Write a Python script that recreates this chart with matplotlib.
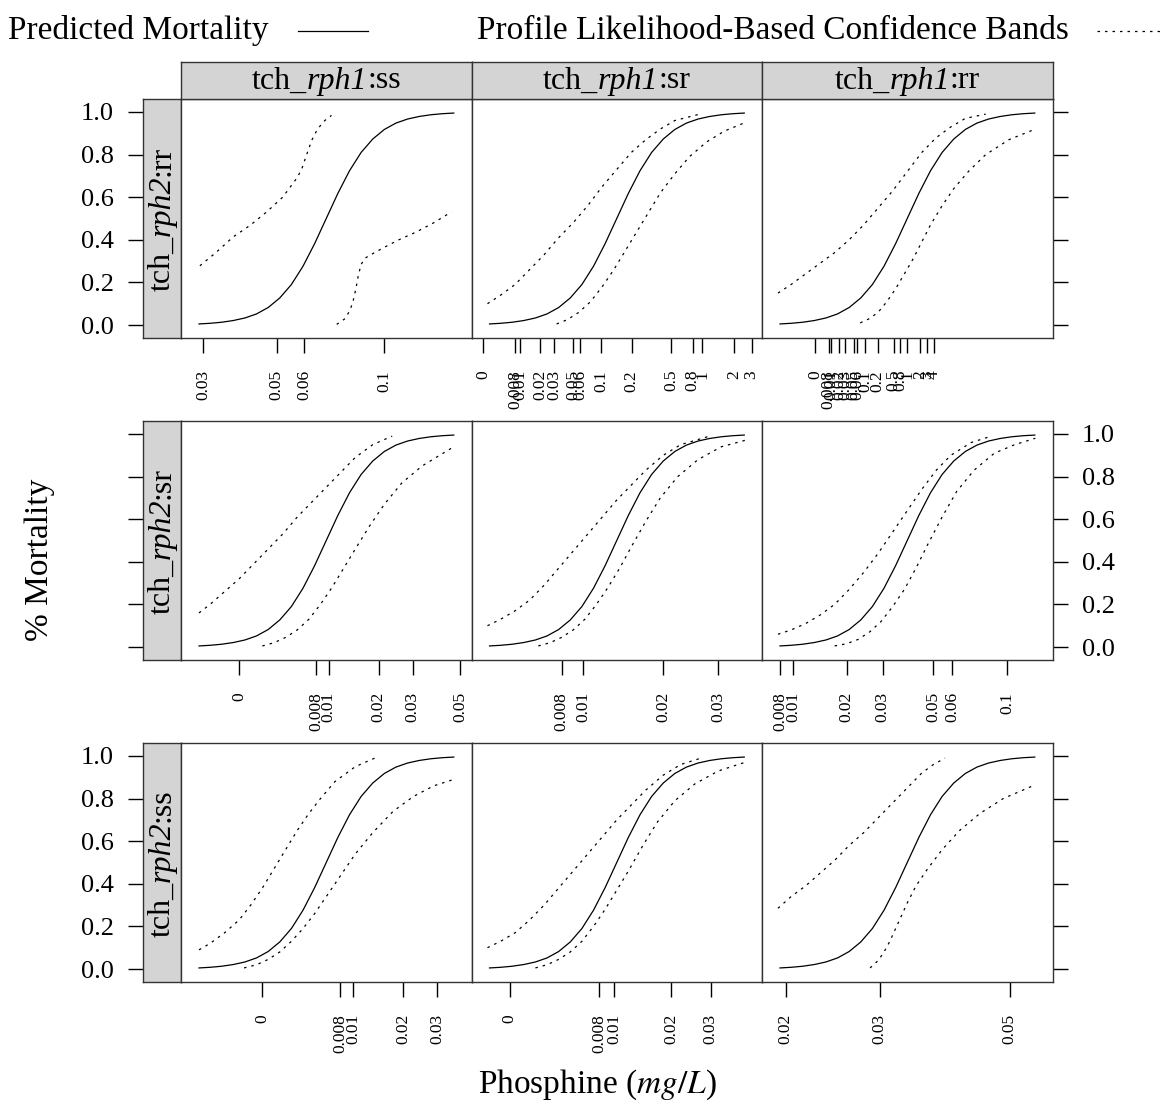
import numpy as np
import matplotlib.pyplot as plt
from matplotlib.lines import Line2D
from matplotlib.transforms import offset_copy

plt.rcParams['font.family'] = ['Liberation Serif', 'DejaVu Serif']
plt.rcParams['mathtext.fontset'] = 'stix'

# strip labels
col_levels = ['ss', 'sr', 'rr']
row_levels = ['rr', 'sr', 'ss']

# x ticks for each panel (position in panel, label)
tick_pos = [
    [[0.077, 0.329, 0.424, 0.699],
     [0.041, 0.151, 0.168, 0.237, 0.284, 0.349, 0.375, 0.447, 0.551, 0.687, 0.761, 0.794, 0.903, 0.964],
     [0.183, 0.229, 0.238, 0.266, 0.286, 0.315, 0.327, 0.355, 0.398, 0.453, 0.476, 0.499, 0.545, 0.568, 0.591]],
    [[0.200, 0.466, 0.509, 0.681, 0.798, 0.961],
     [0.311, 0.385, 0.660, 0.850],
     [0.062, 0.108, 0.292, 0.415, 0.589, 0.654, 0.844]],
    [[0.279, 0.549, 0.592, 0.764, 0.881],
     [0.131, 0.439, 0.491, 0.687, 0.823],
     [0.082, 0.405, 0.852]],
]
tick_lab = [
    [['0.03', '0.05', '0.06', '0.1'],
     ['0', '0.008', '0.01', '0.02', '0.03', '0.05', '0.06', '0.1', '0.2', '0.5', '0.8', '1', '2', '3'],
     ['0', '0.008', '0.01', '0.02', '0.03', '0.05', '0.06', '0.1', '0.2', '0.5', '0.8', '1', '2', '3', '4']],
    [['0', '0.008', '0.01', '0.02', '0.03', '0.05'],
     ['0.008', '0.01', '0.02', '0.03'],
     ['0.008', '0.01', '0.02', '0.03', '0.05', '0.06', '0.1']],
    [['0', '0.008', '0.01', '0.02', '0.03'],
     ['0', '0.008', '0.01', '0.02', '0.03'],
     ['0.02', '0.03', '0.05']],
]

# predicted mortality (same placement in every panel)
fit_x = [0.062, 0.10, 0.14, 0.18, 0.22, 0.26, 0.30, 0.34, 0.38, 0.42, 0.46, 0.50,
         0.54, 0.58, 0.62, 0.66, 0.70, 0.74, 0.78, 0.82, 0.86, 0.90, 0.939]
fit_y = [0.005, 0.008, 0.013, 0.021, 0.033, 0.052, 0.082, 0.127, 0.190, 0.276, 0.382, 0.500,
         0.618, 0.724, 0.810, 0.873, 0.918, 0.948, 0.967, 0.979, 0.987, 0.992, 0.995]

# upper confidence band
hi_x = [
    [[0.065, 0.12, 0.18, 0.24, 0.295, 0.35, 0.398, 0.415, 0.43, 0.45, 0.47, 0.495, 0.518],
     [0.055, 0.10, 0.15, 0.20, 0.25, 0.30, 0.35, 0.40, 0.45, 0.50, 0.55, 0.60, 0.65, 0.70, 0.786],
     [0.055, 0.10, 0.15, 0.20, 0.25, 0.30, 0.35, 0.40, 0.45, 0.50, 0.55, 0.60, 0.65, 0.70, 0.77]],
    [[0.062, 0.10, 0.15, 0.20, 0.25, 0.30, 0.35, 0.40, 0.45, 0.50, 0.55, 0.60, 0.66, 0.727],
     [0.055, 0.10, 0.15, 0.20, 0.25, 0.30, 0.35, 0.40, 0.45, 0.50, 0.55, 0.60, 0.66, 0.72, 0.82],
     [0.055, 0.10, 0.15, 0.20, 0.25, 0.30, 0.35, 0.40, 0.45, 0.50, 0.55, 0.60, 0.65, 0.72, 0.79]],
    [[0.062, 0.10, 0.15, 0.20, 0.24, 0.28, 0.32, 0.36, 0.40, 0.44, 0.48, 0.53, 0.60, 0.667],
     [0.055, 0.10, 0.15, 0.20, 0.25, 0.30, 0.35, 0.40, 0.45, 0.50, 0.55, 0.60, 0.66, 0.72, 0.79],
     [0.055, 0.10, 0.15, 0.20, 0.25, 0.30, 0.35, 0.40, 0.45, 0.50, 0.55, 0.59, 0.63]],
]
hi_y = [
    [[0.278, 0.34, 0.414, 0.47, 0.531, 0.60, 0.688, 0.73, 0.79, 0.867, 0.92, 0.96, 0.984],
     [0.10, 0.14, 0.19, 0.26, 0.33, 0.41, 0.48, 0.56, 0.65, 0.73, 0.81, 0.87, 0.92, 0.96, 0.99],
     [0.15, 0.19, 0.24, 0.29, 0.34, 0.40, 0.47, 0.55, 0.63, 0.72, 0.81, 0.88, 0.93, 0.97, 0.99]],
    [[0.16, 0.20, 0.26, 0.32, 0.39, 0.46, 0.53, 0.61, 0.68, 0.75, 0.82, 0.89, 0.95, 0.99],
     [0.10, 0.13, 0.17, 0.22, 0.29, 0.37, 0.45, 0.53, 0.61, 0.69, 0.76, 0.83, 0.90, 0.95, 0.99],
     [0.06, 0.08, 0.11, 0.15, 0.20, 0.27, 0.35, 0.44, 0.54, 0.64, 0.74, 0.83, 0.90, 0.96, 0.99]],
    [[0.09, 0.12, 0.17, 0.23, 0.30, 0.38, 0.47, 0.56, 0.65, 0.73, 0.80, 0.88, 0.95, 0.99],
     [0.10, 0.13, 0.17, 0.23, 0.30, 0.38, 0.46, 0.54, 0.62, 0.70, 0.77, 0.84, 0.91, 0.96, 0.99],
     [0.285, 0.34, 0.39, 0.45, 0.51, 0.58, 0.64, 0.71, 0.78, 0.85, 0.92, 0.96, 0.99]],
]

# lower confidence band
lo_x = [
    [[0.536, 0.565, 0.582, 0.592, 0.602, 0.61, 0.62, 0.635, 0.66, 0.70, 0.75, 0.811, 0.87, 0.931],
     [0.293, 0.33, 0.37, 0.41, 0.45, 0.49, 0.53, 0.57, 0.61, 0.65, 0.70, 0.75, 0.81, 0.87, 0.941],
     [0.338, 0.37, 0.40, 0.43, 0.46, 0.49, 0.52, 0.55, 0.58, 0.62, 0.66, 0.71, 0.77, 0.85, 0.941]],
    [[0.28, 0.32, 0.36, 0.40, 0.44, 0.48, 0.52, 0.56, 0.60, 0.65, 0.70, 0.76, 0.83, 0.939],
     [0.23, 0.27, 0.31, 0.35, 0.39, 0.43, 0.47, 0.51, 0.55, 0.60, 0.65, 0.71, 0.78, 0.86, 0.941],
     [0.25, 0.29, 0.33, 0.37, 0.41, 0.45, 0.49, 0.53, 0.57, 0.62, 0.67, 0.73, 0.80, 0.87, 0.941]],
    [[0.217, 0.26, 0.30, 0.34, 0.38, 0.42, 0.46, 0.50, 0.55, 0.60, 0.66, 0.73, 0.80, 0.87, 0.939],
     [0.22, 0.26, 0.30, 0.34, 0.38, 0.42, 0.46, 0.50, 0.54, 0.59, 0.64, 0.70, 0.77, 0.85, 0.941],
     [0.372, 0.40, 0.42, 0.44, 0.46, 0.48, 0.50, 0.53, 0.57, 0.62, 0.68, 0.75, 0.83, 0.941]],
]
lo_y = [
    [[0.003, 0.03, 0.07, 0.11, 0.17, 0.23, 0.285, 0.315, 0.335, 0.365, 0.40, 0.4375, 0.48, 0.531],
     [0.005, 0.025, 0.06, 0.11, 0.18, 0.26, 0.35, 0.44, 0.53, 0.62, 0.71, 0.79, 0.86, 0.91, 0.95],
     [0.01, 0.03, 0.06, 0.11, 0.17, 0.24, 0.31, 0.39, 0.47, 0.56, 0.64, 0.72, 0.80, 0.87, 0.92]],
    [[0.005, 0.02, 0.045, 0.08, 0.13, 0.20, 0.28, 0.37, 0.46, 0.57, 0.67, 0.77, 0.85, 0.94],
     [0.005, 0.02, 0.045, 0.08, 0.13, 0.20, 0.28, 0.37, 0.47, 0.59, 0.70, 0.80, 0.88, 0.94, 0.97],
     [0.005, 0.015, 0.035, 0.07, 0.12, 0.19, 0.27, 0.37, 0.48, 0.61, 0.73, 0.83, 0.91, 0.95, 0.98]],
    [[0.005, 0.02, 0.045, 0.08, 0.13, 0.19, 0.26, 0.34, 0.44, 0.54, 0.64, 0.74, 0.81, 0.86, 0.89],
     [0.005, 0.02, 0.045, 0.08, 0.13, 0.20, 0.28, 0.37, 0.46, 0.58, 0.69, 0.79, 0.87, 0.93, 0.97],
     [0.005, 0.04, 0.08, 0.13, 0.19, 0.25, 0.31, 0.39, 0.47, 0.56, 0.65, 0.73, 0.80, 0.865]],
]

yticks = [0.0, 0.2, 0.4, 0.6, 0.8, 1.0]

W, H = 1168, 1112
fig = plt.figure(figsize=(W / 100, H / 100), dpi=100)
renderer = fig.canvas.get_renderer()


def box(x, y, w, h):
    # pixel box measured from the top-left corner
    return [x / W, 1 - (y + h) / H, w / W, h / H]


grey = '#d4d4d4'
frame = '#333333'
col_left = [181, 471.5, 762]
row_top = [99, 421, 743]
pw, ph = 290.5, 239
ylim = (-0.061, 1.061)
big = 24
strip_fs = 23
tick_fs = 19
tick_len = 11


def frame_it(a):
    for s in a.spines.values():
        s.set_color(frame)
        s.set_linewidth(1.0)


def strip_label(a, parts, vertical):
    # text made of upright and italic pieces, centred in the strip
    widths = []
    for s, st in parts:
        t = fig.text(0, 0, s, fontsize=strip_fs, style=st)
        widths.append(t.get_window_extent(renderer).width)
        t.remove()
    pos = -sum(widths) / 2
    for (s, st), w in zip(parts, widths):
        if vertical:
            tr = offset_copy(a.transAxes, fig=fig, x=8, y=pos, units='dots')
            a.text(0.5, 0.5, s, style=st, fontsize=strip_fs, rotation=90,
                   rotation_mode='anchor', ha='left', va='baseline', transform=tr)
        else:
            tr = offset_copy(a.transAxes, fig=fig, x=pos, y=-8, units='dots')
            a.text(0.5, 0.5, s, style=st, fontsize=strip_fs, ha='left',
                   va='baseline', transform=tr)
        pos += w


for r in range(3):
    top = row_top[r]
    sax = fig.add_axes(box(143, top, 38, ph))
    sax.set_facecolor(grey)
    sax.set_ylim(*ylim)
    sax.set_xticks([])
    sax.set_yticks(yticks)
    if r == 1:
        sax.set_yticklabels([])
    else:
        sax.set_yticklabels(['%.1f' % v for v in yticks])
    sax.tick_params(axis='y', length=tick_len, width=1, labelsize=tick_fs, pad=10)
    frame_it(sax)
    strip_label(sax, [('tch_', 'normal'), ('rph2', 'italic'), (':' + row_levels[r], 'normal')], True)

    for c in range(3):
        ax = fig.add_axes(box(col_left[c], top, pw, ph))
        ax.plot(fit_x, fit_y, color='black', lw=0.9)
        ax.plot(hi_x[r][c], hi_y[r][c], color='black', lw=0.9, ls=(0, (2, 4)))
        ax.plot(lo_x[r][c], lo_y[r][c], color='black', lw=0.9, ls=(0, (2, 4)))
        ax.set_xlim(0, 1)
        ax.set_ylim(*ylim)
        ax.set_xticks(tick_pos[r][c])
        ax.set_xticklabels(tick_lab[r][c], rotation=90, fontsize=12.5)
        ax.tick_params(axis='x', length=tick_len, width=1, pad=12)
        if c == 2:
            ax.yaxis.tick_right()
            ax.set_yticks(yticks)
            if r == 1:
                ax.set_yticklabels(['%.1f' % v for v in yticks])
            else:
                ax.set_yticklabels([])
            ax.tick_params(axis='y', length=tick_len, width=1, labelsize=tick_fs, pad=10)
        else:
            ax.set_yticks([])
        frame_it(ax)

        if r == 0:
            tax = fig.add_axes(box(col_left[c], 62, pw, 37))
            tax.set_facecolor(grey)
            tax.set_xticks([])
            tax.set_yticks([])
            frame_it(tax)
            strip_label(tax, [('tch_', 'normal'), ('rph1', 'italic'), (':' + col_levels[c], 'normal')], False)

# key across the top
fig.text(8 / W, 1 - 31 / H, 'Predicted Mortality', fontsize=big, va='center')
fig.add_artist(Line2D([298 / W, 368 / W], [1 - 31 / H, 1 - 31 / H], color='black', lw=0.9))
fig.text(477 / W, 1 - 31 / H, 'Profile Likelihood-Based Confidence Bands', fontsize=big, va='center')
fig.add_artist(Line2D([1097 / W, 1162 / W], [1 - 31 / H, 1 - 31 / H], color='black', lw=0.9,
                      ls=(0, (2, 4))))

fig.text(40 / W, 1 - 560 / H, '% Mortality', rotation=90, fontsize=big, ha='center', va='center')
fig.text(597 / W, 1 - 1085 / H, r'Phosphine ($mg/L$)', fontsize=big, ha='center', va='center')

fig.savefig('out.png', dpi=100)
